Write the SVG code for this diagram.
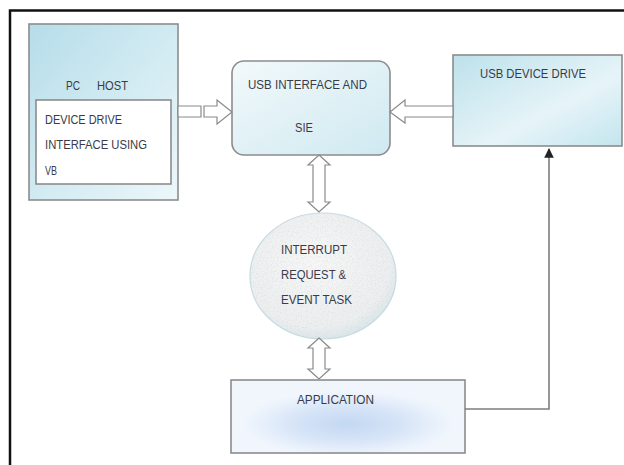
<svg xmlns="http://www.w3.org/2000/svg" width="624" height="465" viewBox="0 0 624 465">
  <defs>
    <linearGradient id="gHost" x1="0" y1="0" x2="1" y2="1">
      <stop offset="0" stop-color="#b6ddea"/>
      <stop offset="1" stop-color="#ecf7fa"/>
    </linearGradient>
    <linearGradient id="gSie" x1="0" y1="0" x2="1" y2="1">
      <stop offset="0" stop-color="#f2f9fb"/>
      <stop offset="1" stop-color="#cfe9f1"/>
    </linearGradient>
    <linearGradient id="gDev" x1="0" y1="0" x2="1" y2="1">
      <stop offset="0" stop-color="#bde1eb"/>
      <stop offset="0.6" stop-color="#e6f4f8"/>
      <stop offset="1" stop-color="#c3e5ee"/>
    </linearGradient>
    <radialGradient id="gApp" cx="0.5" cy="0.6" r="0.45">
      <stop offset="0" stop-color="#c3d8f2"/>
      <stop offset="0.5" stop-color="#d6e4f7"/>
      <stop offset="1" stop-color="#f1f6fd"/>
    </radialGradient>
    <radialGradient id="gEvt" cx="0.45" cy="0.4" r="0.6">
      <stop offset="0" stop-color="#f7f7f7"/>
      <stop offset="0.85" stop-color="#eceeef"/>
      <stop offset="1" stop-color="#dce7ea"/>
    </radialGradient>
    <filter id="speckle" x="0" y="0" width="1" height="1">
      <feTurbulence type="fractalNoise" baseFrequency="0.8" numOctaves="2" seed="4" result="n"/>
      <feColorMatrix in="n" type="matrix" values="0 0 0 0 0.62  0 0 0 0 0.63  0 0 0 0 0.64  0 0 0 -3 1.55" result="dots"/>
      <feComponentTransfer in="dots" result="soft"><feFuncA type="linear" slope="0.45"/></feComponentTransfer>
      <feComposite in="soft" in2="SourceGraphic" operator="in" result="clip"/>
      <feMerge><feMergeNode in="SourceGraphic"/><feMergeNode in="clip"/></feMerge>
    </filter>
    <marker id="tip" viewBox="0 0 10 10" refX="9" refY="5" markerWidth="6" markerHeight="6" orient="auto">
      <path d="M0,0 L10,5 L0,10 Z" fill="#222"/>
    </marker>
  </defs>
  <style>
    .box { stroke: #8c8c8c; stroke-width: 1.6; }
    .lbl { font-family: "Liberation Sans", Arial, sans-serif; font-size: 12.5px; fill: #3a3a48; }
    .hollow { fill: #ffffff; stroke: #8a8a8a; stroke-width: 1.2; stroke-linejoin: miter; }
    .wire { fill: none; stroke: #7d7d7d; stroke-width: 1.6; }
  </style>

  <rect x="0" y="0" width="624" height="465" fill="#ffffff"/>
  <!-- outer frame -->
  <path d="M10,465 V10.5 H624" fill="none" stroke="#111" stroke-width="2.5"/>

  <g id="pc-host">
    <rect class="box" x="29" y="24" width="149" height="176" fill="url(#gHost)"/>
    <text class="lbl" x="66" y="90" textLength="14" lengthAdjust="spacingAndGlyphs">PC</text>
    <text class="lbl" x="97" y="90" textLength="31" lengthAdjust="spacingAndGlyphs">HOST</text>
    <rect class="box" x="36" y="100" width="135" height="84" fill="#ffffff"/>
    <text class="lbl" x="45" y="124" textLength="77" lengthAdjust="spacingAndGlyphs">DEVICE DRIVE</text>
    <text class="lbl" x="45" y="149" textLength="102" lengthAdjust="spacingAndGlyphs">INTERFACE USING</text>
    <text class="lbl" x="45" y="175" textLength="12" lengthAdjust="spacingAndGlyphs">VB</text>
  </g>

  <g id="usb-sie">
    <rect class="box" x="232" y="61" width="158" height="94" rx="12" fill="url(#gSie)"/>
    <text class="lbl" x="248" y="89" textLength="119" lengthAdjust="spacingAndGlyphs">USB INTERFACE AND</text>
    <text class="lbl" x="295" y="132" textLength="18" lengthAdjust="spacingAndGlyphs">SIE</text>
  </g>

  <g id="usb-device">
    <rect class="box" x="453" y="55" width="169" height="91" fill="url(#gDev)"/>
    <text class="lbl" x="480" y="78" textLength="106" lengthAdjust="spacingAndGlyphs">USB DEVICE DRIVE</text>
  </g>

  <g id="interrupt">
    <ellipse cx="323" cy="276" rx="73" ry="63" fill="url(#gEvt)" filter="url(#speckle)"/>
    <ellipse cx="323" cy="276" rx="73" ry="63" fill="none" stroke="#c6dbe2" stroke-width="1.2"/>
    <text class="lbl" x="281" y="254" textLength="66" lengthAdjust="spacingAndGlyphs">INTERRUPT</text>
    <text class="lbl" x="281" y="279" textLength="65" lengthAdjust="spacingAndGlyphs">REQUEST &amp;</text>
    <text class="lbl" x="281" y="304" textLength="71" lengthAdjust="spacingAndGlyphs">EVENT TASK</text>
  </g>

  <g id="application">
    <rect class="box" x="231" y="380" width="234" height="73" fill="url(#gApp)"/>
    <text class="lbl" x="297" y="404" textLength="77" lengthAdjust="spacingAndGlyphs">APPLICATION</text>
  </g>

  <g id="connectors">
    <!-- host to interface: split shaft, hollow head -->
    <path class="hollow" d="M178,106 H201 V117 H178 Z"/>
    <path class="hollow" d="M204,106 H217 V100 L232,112 L217,124 V117 H204 Z"/>
    <!-- device to interface -->
    <path class="hollow" d="M453,106 H405 V100 L390,112 L405,123 V117 H453 Z"/>
    <!-- interface and interrupt task -->
    <path class="hollow" d="M319,155 L330,165 H325 V202 H330 L319,212 L308,202 H313 V165 H308 Z"/>
    <!-- interrupt task and application -->
    <path class="hollow" d="M319,338 L330,348 H325 V369 H330 L319,379 L308,369 H313 V348 H308 Z"/>
    <!-- application back to device -->
    <path class="wire" d="M465,409 H549 V149" marker-end="url(#tip)"/>
  </g>
</svg>
